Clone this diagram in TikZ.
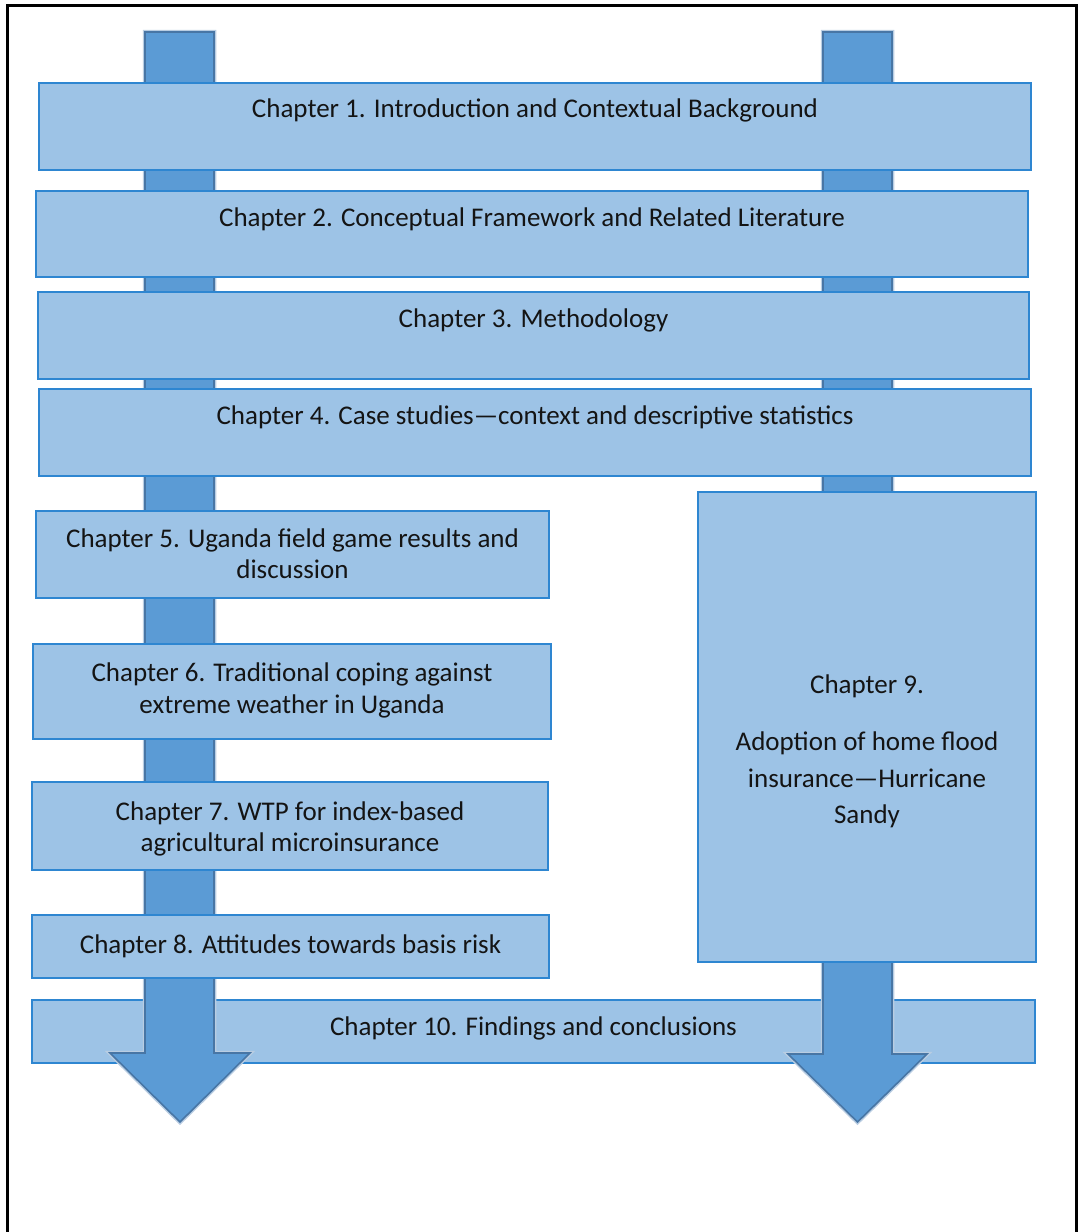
\documentclass[tikz,border=0pt]{standalone}
\usepackage{fontspec}
\setmainfont{Carlito}
\begin{document}
\definecolor{boxfill}{RGB}{157,195,230}
\definecolor{boxline}{RGB}{46,134,209}
\definecolor{arrfill}{RGB}{91,155,213}
\definecolor{arrline}{RGB}{72,118,165}
\definecolor{arrhalo}{RGB}{185,205,226}
\begin{tikzpicture}[x=1pt,y=-1pt,
  chbox/.style={draw=boxline, fill=boxfill, line width=1.6pt, rectangle, inner sep=0pt},
  chtext/.style={anchor=base, inner sep=0pt, font=\fontsize{27}{33}\selectfont, text=black!92},
  bigarrow/.style={fill=arrfill, draw=arrline, line width=1.6pt, line join=miter},
  halo/.style={draw=arrhalo, line width=4.5pt, line join=miter},
  frame/.style={draw=black, line width=3pt}]
\useasboundingbox (0,0) rectangle (1079,1232);

% outer frame, open at the bottom
\draw[frame] (7,1232) -- (7,5) -- (1076.5,5) -- (1076.5,1232);

% closing chapter band sits behind the two flow arrows
\node[chbox, minimum width=1003, minimum height=63] (c10) at (533.5,1031.5) {};
\node[chtext] (t10) at (533.5,1035) {Chapter 10. Findings and conclusions};

% the two flow arrows
\path[halo] (145,32) -- (214,32) -- (214,1053) -- (250,1053) -- (180,1122) -- (110,1053) -- (145,1053) -- cycle;
\path[bigarrow] (145,32) -- (214,32) -- (214,1053) -- (250,1053) -- (180,1122) -- (110,1053) -- (145,1053) -- cycle;
\path[halo] (823,32) -- (892,32) -- (892,1054) -- (927,1054) -- (857.5,1122) -- (788,1054) -- (823,1054) -- cycle;
\path[bigarrow] (823,32) -- (892,32) -- (892,1054) -- (927,1054) -- (857.5,1122) -- (788,1054) -- (823,1054) -- cycle;

% full-width chapters
\node[chbox, minimum width=992, minimum height=87] (c1) at (535,126.5) {};
\node[chtext] (t1) at (535,117) {Chapter 1. Introduction and Contextual Background};

\node[chbox, minimum width=992, minimum height=86] (c2) at (532,234) {};
\node[chtext] (t2) at (532,226) {Chapter 2. Conceptual Framework and Related Literature};

\node[chbox, minimum width=991, minimum height=87] (c3) at (533.5,335.5) {};
\node[chtext] (t3) at (533.5,327) {Chapter 3. Methodology};

\node[chbox, minimum width=992, minimum height=87] (c4) at (535,432.5) {};
\node[chtext] (t4) at (535,424) {Chapter 4. Case studies—context and descriptive statistics};

% left column: Uganda chapters
\node[chbox, minimum width=513, minimum height=87] (c5) at (292.5,554.5) {};
\node[chtext] (t5a) at (292.5,547) {Chapter 5. Uganda field game results and};
\node[chtext] (t5b) at (292.5,578.5) {discussion};

\node[chbox, minimum width=518, minimum height=95] (c6) at (292,691.5) {};
\node[chtext] (t6a) at (292,681) {Chapter 6. Traditional coping against};
\node[chtext] (t6b) at (292,713) {extreme weather in Uganda};

\node[chbox, minimum width=516, minimum height=88] (c7) at (290,826) {};
\node[chtext] (t7a) at (290,820) {Chapter 7. WTP for index-based};
\node[chtext] (t7b) at (290,851.5) {agricultural microinsurance};

\node[chbox, minimum width=517, minimum height=63] (c8) at (290.5,946.5) {};
\node[chtext] (t8) at (290.5,953) {Chapter 8. Attitudes towards basis risk};

% right column: Hurricane Sandy chapter
\node[chbox, minimum width=338, minimum height=470] (c9) at (867,727) {};
\node[chtext] (t9a) at (867,693) {Chapter 9.};
\node[chtext] (t9b) at (867,750) {Adoption of home flood};
\node[chtext] (t9c) at (867,787) {insurance—Hurricane};
\node[chtext] (t9d) at (867,823) {Sandy};
\end{tikzpicture}
\end{document}
